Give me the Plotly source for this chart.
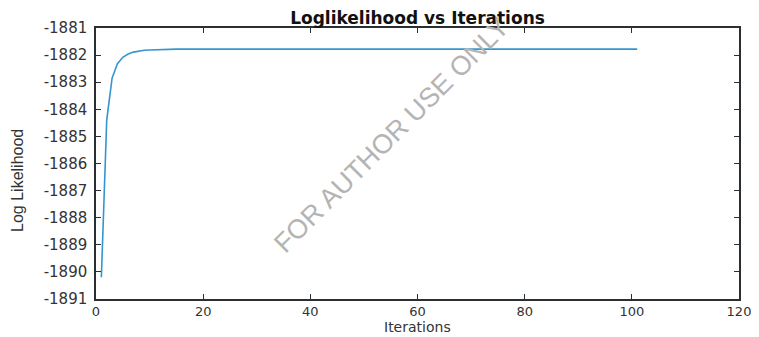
import plotly.graph_objects as go

# Iteration index of the EM run
iterations = list(range(1, 102))

# Log likelihood at each iteration
log_likelihood = [
    -1890.20, -1884.40, -1882.85, -1882.32, -1882.08, -1881.96, -1881.89,
    -1881.85, -1881.82, -1881.81, -1881.80, -1881.79, -1881.79, -1881.78,
    -1881.78, -1881.78, -1881.78, -1881.78, -1881.78, -1881.78, -1881.78,
    -1881.78, -1881.78, -1881.78, -1881.78, -1881.78, -1881.78, -1881.78,
    -1881.78, -1881.78, -1881.78, -1881.78, -1881.78, -1881.78, -1881.78,
    -1881.78, -1881.78, -1881.78, -1881.78, -1881.78, -1881.78, -1881.78,
    -1881.78, -1881.78, -1881.78, -1881.78, -1881.78, -1881.78, -1881.78,
    -1881.78, -1881.78, -1881.78, -1881.78, -1881.78, -1881.78, -1881.78,
    -1881.78, -1881.78, -1881.78, -1881.78, -1881.78, -1881.78, -1881.78,
    -1881.78, -1881.78, -1881.78, -1881.78, -1881.78, -1881.78, -1881.78,
    -1881.78, -1881.78, -1881.78, -1881.78, -1881.78, -1881.78, -1881.78,
    -1881.78, -1881.78, -1881.78, -1881.78, -1881.78, -1881.78, -1881.78,
    -1881.78, -1881.78, -1881.78, -1881.78, -1881.78, -1881.78, -1881.78,
    -1881.78, -1881.78, -1881.78, -1881.78, -1881.78, -1881.78, -1881.78,
    -1881.78, -1881.78, -1881.78,
]

x_ticks = [0, 20, 40, 60, 80, 100, 120]
y_ticks = [-1891, -1890, -1889, -1888, -1887, -1886, -1885, -1884, -1883, -1882, -1881]

axis_color = "#2a2f33"
tick_font = dict(family="DejaVu Sans", size=15, color="#333333")

fig = go.Figure()
fig.add_trace(go.Scatter(
    x=iterations,
    y=log_likelihood,
    mode="lines",
    line=dict(color="#3596cf", width=1.6),
    showlegend=False,
))

fig.update_layout(
    width=759,
    height=337,
    margin=dict(l=96, r=20, t=28, b=38),
    paper_bgcolor="white",
    plot_bgcolor="white",
    title=dict(
        text="<b>Loglikelihood vs Iterations</b>",
        font=dict(family="DejaVu Sans", size=17, color="#111111"),
        x=0.5, xref="paper", xanchor="center",
        y=0.947, yref="container", yanchor="middle",
    ),
    xaxis=dict(
        range=[0, 120],
        tickvals=x_ticks,
        ticks="inside", ticklen=5, tickcolor=axis_color, tickwidth=1,
        showline=True, linecolor=axis_color, linewidth=1.5, mirror="ticks",
        showgrid=False, zeroline=False,
        tickfont=dict(family="DejaVu Sans", size=13, color="#333333"),
        ticklabelstandoff=0,
        automargin=False,
    ),
    yaxis=dict(
        range=[-1891, -1881],
        tickvals=y_ticks,
        ticktext=[str(v) for v in y_ticks],
        ticks="inside", ticklen=5, tickcolor=axis_color, tickwidth=1,
        showline=True, linecolor=axis_color, linewidth=1.5, mirror="ticks",
        showgrid=False, zeroline=False,
        tickfont=tick_font,
        ticklabelstandoff=4,
        automargin=False,
    ),
    annotations=[
        dict(
            text="Iterations",
            xref="paper", yref="paper",
            x=0.5, y=-0.1033,
            xanchor="center", yanchor="middle",
            borderpad=0,
            showarrow=False,
            font=dict(family="DejaVu Sans", size=14, color="#333333"),
        ),
        dict(
            text="Log Likelihood",
            xref="paper", yref="paper",
            x=-0.123, y=0.439,
            xanchor="center", yanchor="middle",
            textangle=-90,
            showarrow=False,
            font=dict(family="Liberation Sans", size=16, color="#333333"),
        ),
        dict(
            text="FOR AUTHOR USE ONLY",
            xref="paper", yref="paper",
            x=0.46, y=0.605,
            xanchor="center", yanchor="middle",
            textangle=-45,
            showarrow=False,
            font=dict(family="Liberation Sans", size=27, color="#b4b4b4"),
        ),
    ],
)

fig.write_html("out.html")
